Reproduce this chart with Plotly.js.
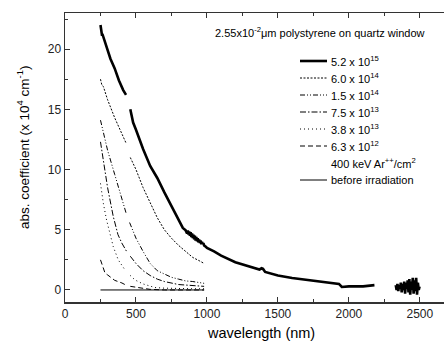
<!DOCTYPE html>
<html>
<head>
<meta charset="utf-8">
<script src="https://cdn.plot.ly/plotly-3.0.1.min.js"></script>
<style>html,body{margin:0;padding:0;background:#fff;}#chart{width:444px;height:342px;}</style>
</head>
<body>
<div id="chart"></div>
<script>
// 5.2 x 10^15
const wl_a = [250,255,260,265,270,290,320,350,380,410,430,440,
  460,480,500,550,600,650,700,750,800,830,850,860,865,870,875,880,885,890,895,900,905,910,915,920,925,930,935,940,945,950,955,960,965,970,975,980,990,1000,1050,1100,1200,1300,1370,1385,1395,1410,1500,1600,1700,1800,1900,1930,1950,2000,2100,2180,2200,
  2330,2336,2342,2348,2354,2360,2366,2372,2378,2384,2390,2396,2402,2408,2414,2420,2426,2432,2438,2444,2450,2456,2462,2468,2474,2480,2486,2492,2498];
const ab_a = [22.0,21.4,21.2,21.2,21.0,20.3,19.2,18.4,17.4,16.6,16.2,null,
  15.0,13.9,13.3,11.7,10.3,9.3,8.1,7.0,5.8,5.15,4.95,4.7,4.95,4.6,4.85,4.5,4.8,4.4,4.7,4.3,4.6,4.2,4.5,4.1,4.4,4.05,4.3,3.95,4.2,3.9,4.1,3.8,4.0,3.8,3.9,3.7,3.6,3.5,3.2,2.85,2.3,1.95,1.7,1.8,1.75,1.5,1.2,1.0,0.85,0.7,0.55,0.5,0.25,0.3,0.3,0.4,null,
  0.4,0.0,0.5,-0.1,0.4,0.1,0.6,-0.2,0.5,0.0,0.7,-0.3,0.6,0.1,0.8,-0.2,0.9,-0.4,0.7,0.0,1.0,-0.3,0.8,-0.1,1.0,-0.4,0.6,0.0,0.3];
// 6.0 x 10^14
const wl_b = [250,260,270,300,350,400,430,440,460,500,550,600,650,700,750,800,850,900,950,980];
const ab_b = [17.5,17.0,16.9,15.8,14.3,13.0,12.2,null,11.0,10.0,8.5,7.2,6.0,5.0,4.3,3.7,3.2,2.7,2.4,2.2];
// 1.5 x 10^14
const wl_c = [250,270,300,350,400,430,440,455,500,550,600,650,700,750,800,850,900,950,980];
const ab_c = [14.1,13.0,11.6,9.6,7.6,6.4,null,5.6,4.3,3.2,2.2,1.6,1.3,1.05,0.9,0.75,0.7,0.6,0.55];
// 7.5 x 10^13
const wl_d = [250,270,300,340,373,400,434,445,460,500,550,600,650,700,800,900,980];
const ab_d = [12.3,10.8,8.5,6.1,4.6,3.9,3.2,null,2.8,2.2,1.6,1.2,0.9,0.7,0.45,0.35,0.3];
// 3.8 x 10^13
const wl_e = [250,270,293,317,340,375,423,440,460,493,550,634,700,800,900,980];
const ab_e = [8.85,7.2,5.8,4.7,3.6,2.5,1.66,null,1.2,0.83,0.5,0.2,0.15,0.1,0.1,0.1];
// 6.3 x 10^12
const wl_f = [250,270,282,300,331,350,401,430,440,460,493,600,700,800,980];
const ab_f = [2.5,1.9,1.4,1.25,1.0,0.8,0.58,0.4,null,0.3,0.25,0.05,0.0,0.0,0.0];
// before irradiation
const wl_g = [250,980];
const ab_g = [0,0];

const names = ['5.2 x 10<sup>15</sup>','6.0 x 10<sup>14</sup>','1.5 x 10<sup>14</sup>','7.5 x 10<sup>13</sup>','3.8 x 10<sup>13</sup>','6.3 x 10<sup>12</sup>','400 keV Ar<sup>++</sup>/cm<sup>2</sup>','before irradiation'];
const xTicks = [0,500,1000,1500,2000,2500];
const yTicks = [0,5,10,15,20];
const titleText = '2.55x10<sup>-2</sup>\u03bcm polystyrene on quartz window';
const xTitle = 'wavelength (nm)';
const yTitle = 'abs. coefficient (x 10<sup>4</sup> cm<sup>-1</sup>)';

const F = 'Liberation Sans, Arial, sans-serif';
const styles = [
  {color:'#000',width:2.6},
  {color:'#000',width:1,dash:'2px,1.5px'},
  {color:'#000',width:1,dash:'5px,2px,1px,2px,1px,2px'},
  {color:'#000',width:1,dash:'6px,2px,1.5px,2px'},
  {color:'#000',width:1,dash:'1px,3px'},
  {color:'#000',width:1,dash:'5px,3px'},
  null,
  {color:'#000',width:1}
];
const xs = [wl_a,wl_b,wl_c,wl_d,wl_e,wl_f,null,wl_g];
const ys = [ab_a,ab_b,ab_c,ab_d,ab_e,ab_f,null,ab_g];
const traces = [];
xs.forEach((x,i)=>{ if(x) traces.push({type:'scatter',mode:'lines',connectgaps:false,hoverinfo:'skip',x:x,y:ys[i],name:names[i],line:styles[i],showlegend:false}); });

// manual legend (paper coords), plot area: left 65px, width 379px, bottom 302px, height 289px
const px = v => (v-65)/379, py = v => (302-v)/289;
const rows = [61,78,95,112,129,146,163,180];
const shapes = [], annotations = [];
rows.forEach((r,i)=>{
  if(styles[i]) shapes.push({type:'line',xref:'paper',yref:'paper',x0:px(300),x1:px(327),y0:py(r),y1:py(r),line:styles[i]});
  annotations.push({xref:'paper',yref:'paper',x:px(329),y:py(r),xanchor:'left',yanchor:'middle',showarrow:false,text:names[i],font:{family:F,size:11,color:'#000'}});
});
annotations.push({xref:'paper',yref:'paper',x:px(320),y:py(32),xanchor:'center',yanchor:'middle',showarrow:false,text:titleText,font:{family:F,size:11,color:'#000'}});
annotations.push({xref:'paper',yref:'paper',x:px(261),y:py(333),xanchor:'center',yanchor:'middle',showarrow:false,text:xTitle,font:{family:F,size:14.5,color:'#000'}});
annotations.push({xref:'paper',yref:'paper',x:px(23),y:py(148),xanchor:'center',yanchor:'middle',showarrow:false,textangle:-90,text:yTitle,font:{family:F,size:13.5,color:'#000'}});

const layout = {
  width:444,height:342,
  margin:{l:65,r:0,t:13,b:40},
  paper_bgcolor:'#fff',plot_bgcolor:'#fff',
  font:{family:F,size:11,color:'#000'},
  showlegend:false,
  xaxis:{range:[0,2670],tickvals:xTicks,ticktext:xTicks.map(String),ticks:'inside',ticklen:5,tickwidth:1,tickcolor:'#333',
    showline:true,linecolor:'#333',linewidth:1.5,mirror:'ticks',showgrid:false,zeroline:false,
    minor:{tickvals:[250,750,1250,1750,2250],ticks:'inside',ticklen:3,tickcolor:'#333'},
    tickfont:{family:F,size:12,color:'#222'}},
  yaxis:{range:[-1,23],tickvals:yTicks,ticktext:yTicks.map(String),ticks:'inside',ticklen:5,tickwidth:1,tickcolor:'#333',
    showline:true,linecolor:'#333',linewidth:1.5,showgrid:false,zeroline:false,
    minor:{tickvals:[2.5,7.5,12.5,17.5,22.5],ticks:'inside',ticklen:3,tickcolor:'#333'},
    tickfont:{family:F,size:12,color:'#222'}},
  shapes:shapes,
  annotations:annotations
};
Plotly.newPlot('chart',traces,layout,{displayModeBar:false,staticPlot:true});
</script>
</body>
</html>
